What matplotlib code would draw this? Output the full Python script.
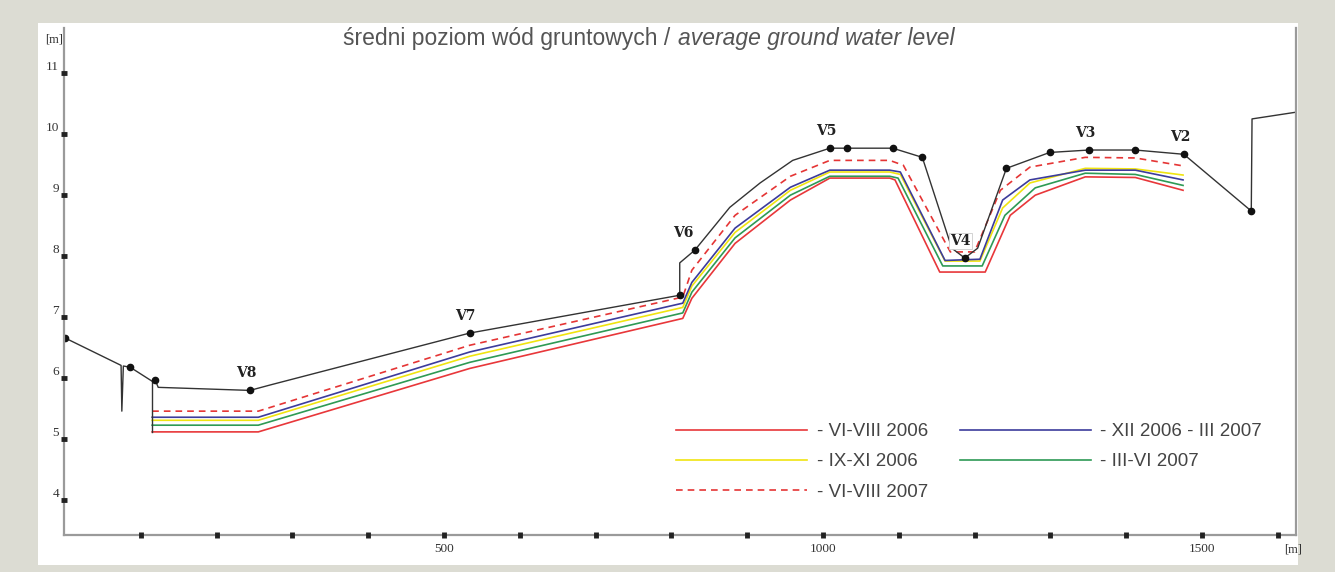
import matplotlib
matplotlib.use("Agg")
import matplotlib.pyplot as plt
from matplotlib.patches import Rectangle

# terrain profile [m] (distance, elevation)
ground_x = [0, 74, 75, 77, 86, 115, 119, 123, 244, 271, 534, 811, 811, 831, 877, 917, 960,
            1009, 1032, 1092, 1131, 1170, 1187, 1204, 1242, 1299, 1351, 1412, 1476, 1565, 1566, 1624]
ground_y = [6.66, 6.21, 5.46, 6.20, 6.18, 5.95, 5.97, 5.85, 5.80, 5.89, 6.74, 7.36, 7.89, 8.10, 8.80, 9.20, 9.57,
            9.77, 9.77, 9.77, 9.62, 8.13, 7.97, 8.13, 9.44, 9.70, 9.74, 9.74, 9.67, 8.74, 10.25, 10.36]
ground_dots = [0, 4, 6, 8, 10, 11, 13, 17, 18, 19, 20, 22, 24, 25, 26, 27, 28, 29]

# model boundary on the left
boundary_x = [115, 115]
boundary_y = [5.95, 5.12]

# piezometers
wells = ["V8", "V7", "V6", "V5", "V4", "V3", "V2"]
well_x = [244, 534, 831, 1009, 1187, 1351, 1476]
well_y = [5.80, 6.74, 8.10, 9.77, 7.97, 9.74, 9.67]

# ground water levels
red06_x = [115, 255, 534, 815, 827, 884, 957, 1009, 1088, 1095, 1154, 1214, 1247, 1280, 1346, 1412, 1475]
red06_y = [5.12, 5.12, 6.16, 6.98, 7.31, 8.21, 8.92, 9.28, 9.28, 9.25, 7.74, 7.74, 8.67, 9.00, 9.30, 9.29, 9.08]

yel06_x = [115, 255, 534, 815, 827, 884, 957, 1009, 1088, 1102, 1161, 1207, 1237, 1273, 1346, 1412, 1475]
yel06_y = [5.31, 5.31, 6.36, 7.16, 7.51, 8.39, 9.08, 9.38, 9.38, 9.34, 7.92, 7.92, 8.79, 9.20, 9.44, 9.43, 9.33]

blue07_x = [115, 255, 534, 815, 827, 884, 957, 1009, 1088, 1102, 1161, 1207, 1237, 1273, 1346, 1412, 1475]
blue07_y = [5.36, 5.36, 6.43, 7.23, 7.57, 8.46, 9.13, 9.41, 9.41, 9.38, 7.93, 7.95, 8.92, 9.25, 9.41, 9.41, 9.25]

green07_x = [115, 255, 534, 815, 827, 884, 957, 1009, 1088, 1099, 1158, 1210, 1240, 1280, 1346, 1412, 1475]
green07_y = [5.23, 5.23, 6.26, 7.07, 7.41, 8.30, 9.00, 9.31, 9.31, 9.28, 7.84, 7.84, 8.67, 9.12, 9.36, 9.34, 9.16]

dash07_x = [115, 255, 534, 815, 827, 884, 957, 1009, 1088, 1106, 1168, 1200, 1234, 1273, 1346, 1412, 1475]
dash07_y = [5.46, 5.46, 6.54, 7.33, 7.77, 8.67, 9.31, 9.57, 9.57, 9.49, 8.07, 8.07, 9.08, 9.46, 9.62, 9.61, 9.48]

y_ticks = [4, 5, 6, 7, 8, 9, 10, 11]
x_ticks = list(range(100, 1700, 100))
x_labels = {500: "500", 1000: "1000", 1500: "1500"}

W, H = 1335, 572
fig = plt.figure(figsize=(W / 100, H / 100), dpi=100, facecolor="#dcdcd3")
fig.add_artist(Rectangle((38 / W, 7 / H), (1298 - 38) / W, (565 - 23) / H,
                         transform=fig.transFigure, facecolor="white", edgecolor="none", zorder=0))

ax = fig.add_axes([64 / W, 37 / H, (1296 - 64) / W, (535 - 28) / H])
ax.set_facecolor("none")
ax.set_xlim(-1.3, 1624)
ax.set_ylim(3.43, 11.74)

ax.plot(red06_x, red06_y, color="#e8373a", lw=1.2, label="- VI-VIII 2006")
ax.plot(yel06_x, yel06_y, color="#f0e410", lw=1.2, label="- IX-XI 2006")
ax.plot(dash07_x, dash07_y, color="#e53535", lw=1.2, ls=(0, (4, 3)), label="- VI-VIII 2007")
ax.plot(blue07_x, blue07_y, color="#3c3c9c", lw=1.2, label="- XII 2006 - III 2007")
ax.plot(green07_x, green07_y, color="#2e9a55", lw=1.2, label="- III-VI 2007")

ax.plot(boundary_x, boundary_y, color="#333333", lw=1.0)
ax.plot(ground_x, ground_y, color="#333333", lw=1.0, marker="o", ms=4.5,
        markevery=ground_dots, mfc="#111111", mec="#111111")

for name, wx, wy in zip(wells, well_x, well_y):
    dx = -12 if name == "V6" else -4
    box = dict(facecolor="white", edgecolor="#cccccc", pad=1, lw=0.6) if name == "V4" else None
    ax.annotate(name, (wx, wy), xytext=(dx, 17), textcoords="offset pixels",
                ha="center", va="center", fontsize=10, fontweight="bold",
                family="DejaVu Serif", color="#222222", bbox=box)

# axes look
for s in ["left", "bottom", "right"]:
    ax.spines[s].set_color("#9a9a9a")
    ax.spines[s].set_linewidth(1.6)
ax.spines["top"].set_visible(False)
ax.xaxis.set_zorder(3)
ax.yaxis.set_zorder(3)

ax.set_yticks(y_ticks)
ax.set_yticklabels([str(v) for v in y_ticks], family="Liberation Serif", fontsize=9.5, color="#333333")
for lab in ax.get_yticklabels():
    lab.set_va("bottom")
ax.set_xticks(x_ticks)
ax.set_xticklabels([x_labels.get(v, "") for v in x_ticks], family="Liberation Serif",
                   fontsize=9.5, color="#333333")
ax.tick_params(axis="both", direction="inout", length=5, width=3.5, color="#222222", pad=3)
ax.tick_params(axis="y", pad=1)

fig.text(45 / W, 1 - 40 / H, "[m]", ha="left", va="center", family="Liberation Serif",
         fontsize=9, color="#333333")
fig.text(1284 / W, 1 - 549 / H, "[m]", ha="left", va="center", family="Liberation Serif",
         fontsize=9, color="#333333")

fig.text(670 / W, 1 - 38 / H, "średni poziom wód gruntowych /", ha="right", va="center",
         family="Liberation Sans", fontsize=16.5, color="#555555")
fig.text(678 / W, 1 - 38 / H, "average ground water level", ha="left", va="center",
         family="Liberation Sans", style="italic", fontsize=16.5, color="#555555")

ax.legend(loc="upper left", bbox_to_anchor=(676 / W, 1 - 423 / H), bbox_transform=fig.transFigure,
          ncol=2, frameon=False, handlelength=7.0, handletextpad=0.5, columnspacing=1.7,
          labelspacing=0.7, borderpad=0, borderaxespad=0,
          prop={"family": "Liberation Sans", "size": 13.5})
for t in ax.get_legend().get_texts():
    t.set_color("#444444")

fig.savefig("out.png", dpi=100, facecolor=fig.get_facecolor())
